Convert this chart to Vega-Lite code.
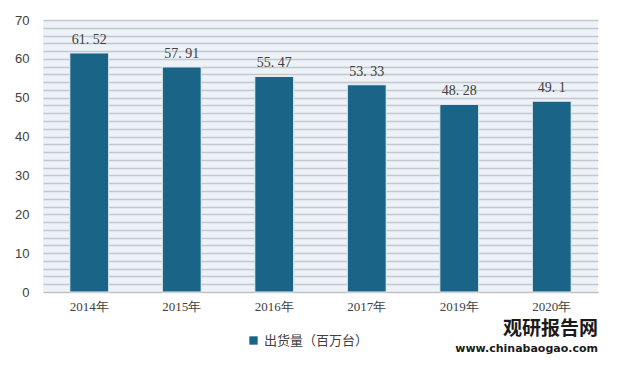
{
  "$schema": "https://vega.github.io/schema/vega-lite/v6.json",
  "width": 555,
  "height": 272,
  "autosize": {"type": "none"},
  "padding": {"left": 43, "top": 20, "right": 23, "bottom": 74},
  "background": "white",
  "config": {
    "view": {"fill": "#EDF2F8", "stroke": null},
    "font": "Liberation Serif"
  },
  "data": {
    "values": [
      {"year": "2014年", "value": 61.52, "label": "61. 52"},
      {"year": "2015年", "value": 57.91, "label": "57. 91"},
      {"year": "2016年", "value": 55.47, "label": "55. 47"},
      {"year": "2017年", "value": 53.33, "label": "53. 33"},
      {"year": "2019年", "value": 48.28, "label": "48. 28"},
      {"year": "2020年", "value": 49.1, "label": "49. 1"}
    ]
  },
  "title": {
    "text": "观研报告网",
    "subtitle": "www.chinabaogao.com",
    "orient": "bottom",
    "anchor": "end",
    "font": "Noto Sans CJK SC",
    "fontSize": 19,
    "fontWeight": "bold",
    "color": "#1a1a1a",
    "subtitleFont": "DejaVu Sans",
    "subtitleFontSize": 11,
    "subtitleFontWeight": "bold",
    "subtitleColor": "#1a1a1a",
    "offset": 6,
    "dy": -34,
    "subtitlePadding": 4
  },
  "encoding": {
    "x": {
      "field": "year",
      "type": "nominal",
      "sort": null,
      "scale": {"paddingInner": 0.58, "paddingOuter": 0.29},
      "axis": {
        "title": null,
        "labelAngle": 0,
        "labelFont": "Liberation Serif",
        "labelFontSize": 13,
        "labelColor": "#404040",
        "labelPadding": 8,
        "ticks": false,
        "domainColor": "#BFBFBF",
        "grid": false
      }
    },
    "y": {
      "field": "value",
      "type": "quantitative",
      "scale": {"domain": [0, 70], "nice": false},
      "axis": {
        "title": null,
        "values": [0,2,4,6,8,10,12,14,16,18,20,22,24,26,28,30,32,34,36,38,40,42,44,46,48,50,52,54,56,58,60,62,64,66,68,70],
        "labelExpr": "datum.value % 10 == 0 ? datum.label : ''",
        "labelFont": "Liberation Sans",
        "labelFontSize": 13,
        "labelColor": "#404040",
        "labelPadding": 14,
        "ticks": false,
        "domain": false,
        "grid": true,
        "gridColor": "#C4C8CC",
        "gridWidth": 1.5
      }
    }
  },
  "layer": [
    {
      "mark": {"type": "bar", "stroke": "#E8EEF4", "strokeWidth": 1},
      "encoding": {
        "color": {
          "datum": "出货量（百万台）",
          "type": "nominal",
          "scale": {"range": ["#1A6587"]},
          "legend": {
            "title": null,
            "orient": "none",
            "legendX": 204,
            "legendY": 314,
            "direction": "horizontal",
            "symbolType": "square",
            "symbolSize": 70,
            "symbolStrokeWidth": 0,
            "labelFont": "Noto Sans CJK SC",
            "labelFontSize": 13,
            "labelColor": "#404040"
          }
        }
      }
    },
    {
      "mark": {"type": "text", "dy": -13, "fontSize": 14, "color": "#404040", "font": "Liberation Serif"},
      "encoding": {"text": {"field": "label"}}
    }
  ]
}
